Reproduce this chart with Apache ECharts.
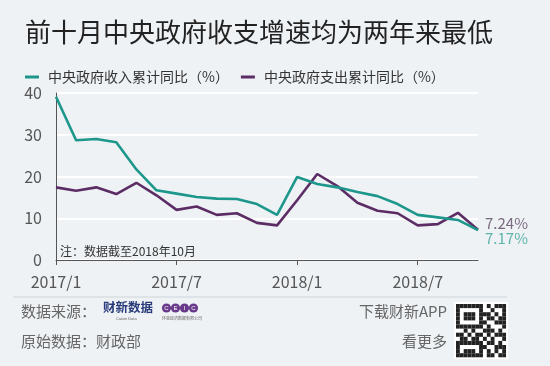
<!DOCTYPE html>
<html>
<head>
<meta charset="utf-8">
<script src="https://cdn.jsdelivr.net/npm/echarts@6/dist/echarts.min.js"></script>
<style>
  html, body { margin: 0; padding: 0; background: #eef2f5; }
  #chart { width: 550px; height: 366px; }
</style>
</head>
<body>
<div id="chart"></div>
<script>
// months 2017/1 .. 2018/10
var months = ['2017/1','2017/2','2017/3','2017/4','2017/5','2017/6','2017/7','2017/8','2017/9','2017/10','2017/11','2017/12',
              '2018/1','2018/2','2018/3','2018/4','2018/5','2018/6','2018/7','2018/8','2018/9','2018/10'];
var revenue = [39.1, 28.7, 29.0, 28.2, 21.7, 16.7, 15.9, 15.1, 14.7, 14.6, 13.4, 10.8,
               19.9, 18.2, 17.4, 16.3, 15.3, 13.4, 10.8, 10.2, 9.6, 7.17];
var spending = [17.4, 16.6, 17.4, 15.8, 18.5, 15.5, 12.0, 12.8, 10.8, 11.2, 8.9, 8.3,
                14.3, 20.6, 17.7, 13.7, 11.8, 11.2, 8.3, 8.6, 11.3, 7.24];
var tickMonths = ['2017/1', '2017/7', '2018/1', '2018/7'];
var yTicks = [0, 10, 20, 30, 40];

var textCol = '#555';
var font = '"Noto Sans CJK SC", sans-serif';

// fake QR pattern (decoration only), 13x13 cells
var qrRows = [
  '1111111010111',
  '1000001001001',
  '1011101110101',
  '1011101011011',
  '1000001100111',
  '1111111010001',
  '0010100111010',
  '1101011010111',
  '0110110101001',
  '1111111011010',
  '1000001100111',
  '1011101010101',
  '1111111011011'
];
var qrCells = [];
qrRows.forEach(function (row, r) {
  row.split('').forEach(function (c, k) {
    if (c === '1') {
      qrCells.push({ type: 'rect', shape: { x: 456 + k * 3.85, y: 304 + r * 4.1, width: 3.85, height: 4.1 }, style: { fill: '#222' } });
    }
  });
});

var ceic = [];
['C', 'E', 'I', 'C'].forEach(function (ch, i) {
  ceic.push({ type: 'circle', shape: { cx: 166.5 + i * 9, cy: 308, r: 4.6 }, style: { fill: '#6a3a8a' } });
  ceic.push({ type: 'text', style: { x: 166.5 + i * 9, y: 308, text: ch, fontSize: 6, fill: '#fff', align: 'center', verticalAlign: 'middle' } });
});

var chart = echarts.init(document.getElementById('chart'));
chart.setOption({
  backgroundColor: '#eef2f5',
  textStyle: { fontFamily: font },
  title: {
    text: '前十月中央政府收支增速均为两年来最低',
    left: 20, top: 14,
    textStyle: { fontSize: 26, fontWeight: 'normal', color: '#222', fontFamily: font }
  },
  legend: {
    left: 20, top: 65,
    itemWidth: 14, itemHeight: 3, itemGap: 12,
    icon: 'rect',
    textStyle: { fontSize: 14, color: '#333', padding: [0, 0, 0, 4] },
    data: ['中央政府收入累计同比（%）', '中央政府支出累计同比（%）']
  },
  grid: { left: 56, right: 72, top: 93, bottom: 106 },
  xAxis: {
    type: 'category',
    data: months,
    boundaryGap: false,
    axisLine: { lineStyle: { color: '#555', width: 1 } },
    axisTick: {
      length: 5,
      lineStyle: { color: '#555' },
      interval: function (i, v) { return tickMonths.indexOf(v) >= 0; }
    },
    axisLabel: {
      fontSize: 16, color: textCol, margin: 14,
      interval: function (i, v) { return tickMonths.indexOf(v) >= 0; }
    },
    splitLine: { show: false }
  },
  yAxis: {
    type: 'value',
    min: yTicks[0], max: yTicks[yTicks.length - 1], interval: 10,
    axisLine: { show: true, lineStyle: { color: '#555' } },
    axisTick: { show: false },
    axisLabel: { fontSize: 16, color: textCol, margin: 14 },
    splitLine: { lineStyle: { color: '#ffffff', width: 2 } }
  },
  series: [{
    name: '中央政府收入累计同比（%）',
    type: 'line',
    data: revenue,
    symbol: 'none',
    color: '#1d968b',
    lineStyle: { width: 2.6, color: '#1d968b' },
    z: 3,
    endLabel: {
      show: true, formatter: '{c}%', fontSize: 15, color: '#5fb3aa',
      offset: [-1, 8]
    }
  }, {
    name: '中央政府支出累计同比（%）',
    type: 'line',
    data: spending,
    symbol: 'none',
    color: '#5c2c64',
    lineStyle: { width: 2.6, color: '#5c2c64' },
    z: 2,
    endLabel: {
      show: true, formatter: '{c}%', fontSize: 15, color: '#7a6a80',
      offset: [-1, -6]
    }
  }],
  graphic: [
    { type: 'text', left: 60, top: 245, style: { text: '注：数据截至2018年10月', fontSize: 12, fill: '#333', fontFamily: font } },
    { type: 'line', shape: { x1: 13, y1: 297, x2: 507, y2: 297 }, style: { stroke: '#cfd4d8', lineWidth: 1 } },
    { type: 'text', left: 21, top: 304, style: { text: '数据来源：', fontSize: 15, fill: '#666', fontFamily: font } },
    { type: 'text', left: 103, top: 301, style: { text: '财新数据', fontSize: 12.5, fontWeight: 'bold', fill: '#283a7a', fontFamily: font } },
    { type: 'text', left: 116, top: 317, style: { text: 'Caixin Data', fontSize: 4, fill: '#666' } },
    { type: 'group', children: ceic },
    { type: 'text', left: 162, top: 316, style: { text: '环亚经济数据有限公司', fontSize: 4, fill: '#666', fontFamily: font } },
    { type: 'text', left: 21, top: 334, style: { text: '原始数据：财政部', fontSize: 15, fill: '#666', fontFamily: font } },
    { type: 'text', right: 103, top: 304, style: { text: '下载财新APP', fontSize: 15, fill: '#666', fontFamily: font, align: 'right' } },
    { type: 'text', right: 103, top: 334, style: { text: '看更多', fontSize: 15, fill: '#666', fontFamily: font, align: 'right' } },
    { type: 'rect', shape: { x: 454, y: 302, width: 54, height: 57 }, style: { fill: '#fff' } },
    { type: 'group', children: qrCells }
  ]
});
</script>
</body>
</html>
